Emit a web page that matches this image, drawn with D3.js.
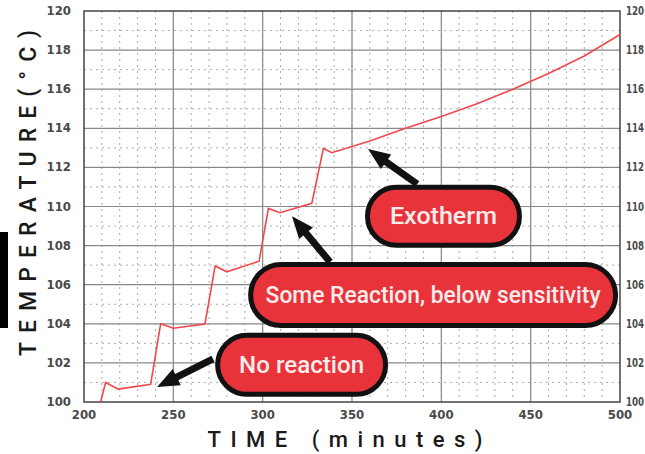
<!DOCTYPE html>
<html>
<head>
<meta charset="utf-8">
<script src="https://cdn.jsdelivr.net/npm/d3@7"></script>
<style>
	body { margin: 0; background: #fff; }
	.tick-label { font-family: "Liberation Sans Narrow", "DejaVu Sans Condensed", sans-serif; font-weight: bold; font-size: 13px; fill: #4a4a4a; }
	.axis-title { font-family: Roboto, "DejaVu Sans", sans-serif; font-weight: 500; fill: #1a1a1a; }
	.pill-text { font-family: Roboto, "Open Sans", sans-serif; font-weight: 500; fill: #fcecec; }
</style>
</head>
<body>
<svg width="645" height="454"></svg>
<script>
// temperature trace, minutes vs deg C
var times = [209.3, 212.1, 219.2, 237.3, 242.9, 250, 267.7, 273.4, 279.9, 298, 303.2, 309.7, 327.5, 334, 338.7, 360, 380, 400, 420, 440, 460, 480, 500];
var temps = [100, 101.0, 100.66, 100.9, 104.0, 103.77, 103.99, 106.96, 106.66, 107.2, 109.9, 109.68, 110.16, 112.97, 112.75, 113.35, 114.0, 114.6, 115.25, 116.0, 116.8, 117.7, 118.8];

var xTicks = [200, 250, 300, 350, 400, 450, 500];
var yTicks = [100, 102, 104, 106, 108, 110, 112, 114, 116, 118, 120];

// callouts: label, pill centre (time, temp), arrow tip and tail (time, temp)
var notes = ["Exotherm", "Some Reaction, below sensitivity", "No reaction"];
var noteCentre = [[401.2, 109.5], [395.4, 105.47], [321.8, 101.9]];
var noteTip = [[359, 112.94], [316.4, 109.5], [240.9, 100.77]];
var noteTail = [[386.5, 111.15], [337.7, 107.16], [272.2, 102.2]];

var svg = d3.select("svg"),
	width = +svg.attr("width"),
	height = +svg.attr("height");

var margin = {left: 84, right: 25, top: 11, bottom: 52};

var x = d3.scaleLinear()
	.domain([200, 500])
	.range([margin.left, width - margin.right]);

var y = d3.scaleLinear()
	.domain([100, 120])
	.range([height - margin.bottom, margin.top]);

var grid = svg.append("g");

// minor dotted grid
grid.selectAll(".vminor")
	.data(d3.range(210, 500, 10))
	.enter().append("line")
	.attr("x1", function(d) { return x(d); })
	.attr("x2", function(d) { return x(d); })
	.attr("y1", y(120)).attr("y2", y(100))
	.attr("stroke", "#aaa")
	.attr("stroke-dasharray", "2,4");

grid.selectAll(".hminor")
	.data(d3.range(101, 120, 1).filter(function(d) { return d % 2 == 1; }))
	.enter().append("line")
	.attr("y1", function(d) { return y(d); })
	.attr("y2", function(d) { return y(d); })
	.attr("x1", x(200)).attr("x2", x(500))
	.attr("stroke", "#aaa")
	.attr("stroke-dasharray", "2,4");

// major grid
grid.selectAll(".vmajor")
	.data(xTicks.slice(1, -1))
	.enter().append("line")
	.attr("x1", function(d) { return x(d); })
	.attr("x2", function(d) { return x(d); })
	.attr("y1", y(120)).attr("y2", y(100))
	.attr("stroke", "#888")
	.attr("stroke-width", 1.2);

grid.selectAll(".hmajor")
	.data(yTicks.slice(1, -1))
	.enter().append("line")
	.attr("y1", function(d) { return y(d); })
	.attr("y2", function(d) { return y(d); })
	.attr("x1", x(200)).attr("x2", x(500))
	.attr("stroke", "#888")
	.attr("stroke-width", 1.2);

svg.append("rect")
	.attr("x", x(200)).attr("y", y(120))
	.attr("width", x(500) - x(200))
	.attr("height", y(100) - y(120))
	.attr("fill", "none")
	.attr("stroke", "#444")
	.attr("stroke-width", 1.5);

// tick labels
svg.selectAll(".ylab")
	.data(yTicks)
	.enter().append("text")
	.attr("class", "tick-label")
	.attr("x", margin.left - 13)
	.attr("y", function(d) { return y(d) + 4; })
	.attr("text-anchor", "end")
	.text(function(d) { return d; });

svg.selectAll(".ylab2")
	.data(yTicks)
	.enter().append("text")
	.attr("class", "tick-label")
	.attr("x", x(500) + 6)
	.attr("y", function(d) { return y(d) + 4; })
	.attr("font-size", 12)
	.attr("textLength", 18)
	.attr("lengthAdjust", "spacingAndGlyphs")
	.style("font-size", "12px")
	.text(function(d) { return d; });

svg.selectAll(".xlab")
	.data(xTicks)
	.enter().append("text")
	.attr("class", "tick-label")
	.attr("x", function(d) { return x(d); })
	.attr("y", y(100) + 17)
	.attr("text-anchor", "middle")
	.text(function(d) { return d; });

// axis titles
svg.append("text")
	.attr("class", "axis-title")
	.attr("transform", "translate(36," + 193 + ") rotate(-90)")
	.attr("text-anchor", "middle")
	.attr("font-size", 23)
	.attr("textLength", 326)
	.attr("lengthAdjust", "spacing")
	.text("TEMPERATURE(°C)");

svg.append("text")
	.attr("class", "axis-title")
	.attr("x", 345)
	.attr("y", 447)
	.attr("text-anchor", "middle")
	.attr("font-size", 22)
	.attr("textLength", 275)
	.attr("lengthAdjust", "spacing")
	.text("TIME (minutes)");

// stray black bar on left edge
svg.append("rect")
	.attr("x", 0).attr("y", 232)
	.attr("width", 8).attr("height", 96)
	.attr("fill", "#000");

// the trace
var line = d3.line()
	.x(function(d) { return x(d[0]); })
	.y(function(d) { return y(d[1]); });

svg.append("path")
	.datum(d3.zip(times, temps))
	.attr("fill", "none")
	.attr("stroke", "#f0474d")
	.attr("stroke-width", 1.6)
	.attr("d", line);

// callouts
var pillW = [157, 370, 173], pillH = [63, 66, 64], textW = [107, 335, 125];

notes.forEach(function(n, i) {
	var tx = x(noteTip[i][0]), ty = y(noteTip[i][1]);
	var sx = x(noteTail[i][0]), sy = y(noteTail[i][1]);
	var ang = Math.atan2(ty - sy, tx - sx);
	var len = Math.hypot(tx - sx, ty - sy);
	var head = 22, hw = 9, sw = 3.5;
	var g = svg.append("g")
		.attr("transform", "translate(" + sx + "," + sy + ") rotate(" + (ang * 180 / Math.PI) + ")");
	g.append("path")
		.attr("d", "M0," + (-sw) + "L" + (len - head) + "," + (-sw) + "L" + (len - head) + "," + (-hw) +
			"L" + len + ",0L" + (len - head) + "," + hw + "L" + (len - head) + "," + sw + "L0," + sw + "Z")
		.attr("fill", "#111");

	var cx = x(noteCentre[i][0]), cy = y(noteCentre[i][1]);
	svg.append("rect")
		.attr("x", cx - pillW[i] / 2 + 2.5)
		.attr("y", cy - pillH[i] / 2 + 2.5)
		.attr("width", pillW[i] - 5)
		.attr("height", pillH[i] - 5)
		.attr("rx", (pillH[i] - 5) / 2)
		.attr("fill", "#e8333a")
		.attr("stroke", "#111")
		.attr("stroke-width", 5);

	svg.append("text")
		.attr("class", "pill-text")
		.attr("x", cx)
		.attr("y", cy + 8)
		.attr("text-anchor", "middle")
		.attr("font-size", 23)
		.attr("textLength", textW[i])
		.attr("lengthAdjust", "spacingAndGlyphs")
		.text(n);
});
</script>
</body>
</html>
